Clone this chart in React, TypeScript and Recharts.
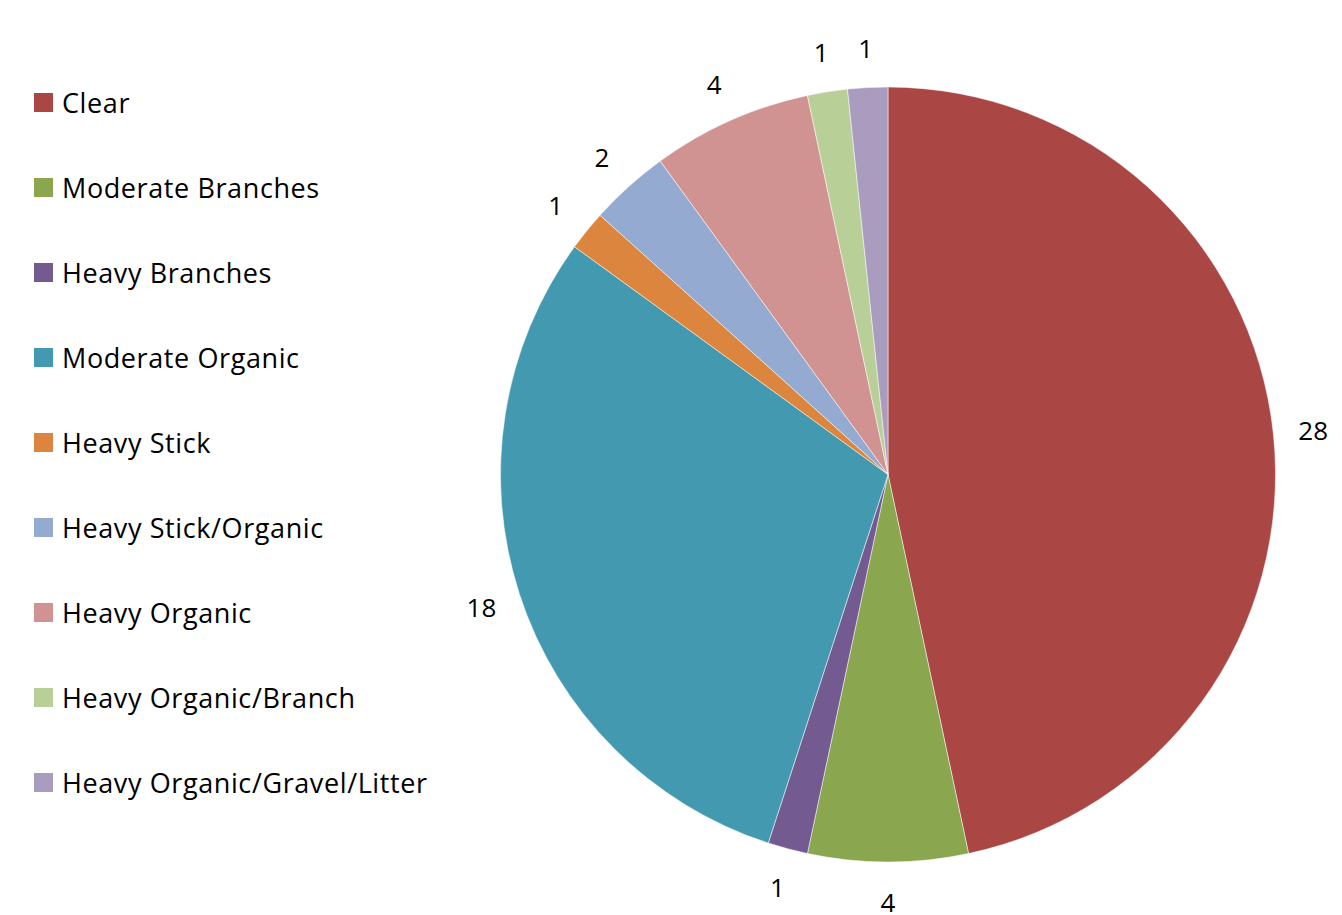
import React from 'react';
import { PieChart, Pie, Cell } from 'recharts';

const categories = [
  'Clear',
  'Moderate Branches',
  'Heavy Branches',
  'Moderate Organic',
  'Heavy Stick',
  'Heavy Stick/Organic',
  'Heavy Organic',
  'Heavy Organic/Branch',
  'Heavy Organic/Gravel/Litter',
];
const counts = [28, 4, 1, 18, 1, 2, 4, 1, 1];
const colors = ['#AA4644', '#8AA64E', '#735A91', '#4399B0', '#DB853E', '#94AAD0', '#D19392', '#B9CF98', '#A99CBF'];

const data = categories.map((name, i) => ({ name, value: counts[i] }));

const FONT = '"Open Sans", Lato, sans-serif';
const FS = 27;
const RAD = Math.PI / 180;

const renderLabel = (props: any) => {
  const { cx, cy, midAngle, outerRadius, value } = props;
  const r = outerRadius + 40;
  const x = cx + r * Math.cos(-midAngle * RAD);
  const y = cy + r * Math.sin(-midAngle * RAD);
  return (
    <text x={x} y={y} textAnchor="middle" dominantBaseline="central" fontFamily={FONT} fontSize={26} fill="#000">
      {value}
    </text>
  );
};

export default function App() {
  return (
    <div style={{ position: 'absolute', left: 0, top: 0, width: 1342, height: 915, background: '#fff' }}>
      <PieChart width={1342} height={915} margin={{ top: 0, right: 0, bottom: 0, left: 0 }}>
        <Pie
          data={data}
          dataKey="value"
          nameKey="name"
          cx={888}
          cy={474.5}
          outerRadius={387.5}
          startAngle={90}
          endAngle={-270}
          stroke="#fff"
          strokeWidth={0.5}
          label={renderLabel}
          labelLine={false}
          isAnimationActive={false}
        >
          {data.map((d, i) => (
            <Cell key={d.name} fill={colors[i]} />
          ))}
        </Pie>
      </PieChart>
      <div style={{ position: 'absolute', left: 0, top: 0 }}>
        {categories.map((name, i) => (
          <div
            key={name}
            style={{
              position: 'absolute',
              left: 34,
              top: 102 + i * 85 - 18,
              height: 36,
              display: 'flex',
              alignItems: 'center',
              fontFamily: FONT,
              fontSize: FS,
              letterSpacing: 0.6,
              color: '#000',
              whiteSpace: 'nowrap',
            }}
          >
            <span style={{ display: 'inline-block', width: 19, height: 19, background: colors[i], marginRight: 9, flex: 'none' }} />
            <span>{name}</span>
          </div>
        ))}
      </div>
    </div>
  );
}
